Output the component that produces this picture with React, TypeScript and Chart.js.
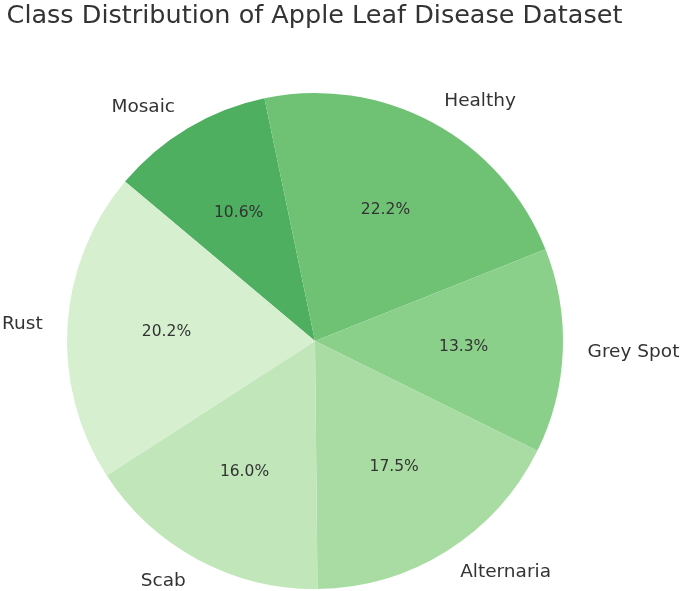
import React, { useEffect, useRef } from "react";
import { Chart, registerables } from "chart.js";

Chart.register(...registerables);

const TITLE = "Class Distribution of Apple Leaf Disease Dataset";
// Counter-clockwise order starting at 140°, as in the source
const categories = ["Rust", "Scab", "Alternaria", "Grey Spot", "Healthy", "Mosaic"];
const percentages = [20.2, 16.0, 17.5, 13.3, 22.2, 10.6];
const colors = ["#d5efcf", "#c1e6ba", "#a9dca3", "#8bd08a", "#6fc274", "#4daf5f"];

const TEXT_COLOR = "#333333";
const FONT = '"DejaVu Sans", sans-serif';

export default function App() {
  const ref = useRef<HTMLCanvasElement | null>(null);

  useEffect(() => {
    if (!ref.current) return;
    // Chart.js draws clockwise, so reverse to reproduce the counter-clockwise layout
    const labels = [...categories].reverse();
    const data = [...percentages].reverse();
    const bg = [...colors].reverse();

    const textPlugin = {
      id: "pieText",
      afterDraw(chart: any) {
        const ctx = chart.ctx as CanvasRenderingContext2D;
        ctx.save();
        ctx.fillStyle = TEXT_COLOR;
        // title
        ctx.font = `25.5px ${FONT}`;
        ctx.textAlign = "center";
        ctx.textBaseline = "alphabetic";
        ctx.fillText(TITLE, 314.5, 23);

        const meta = chart.getDatasetMeta(0);
        const total = data.reduce((a: number, b: number) => a + b, 0);
        meta.data.forEach((arc: any, i: number) => {
          const mid = (arc.startAngle + arc.endAngle) / 2;
          const r = arc.outerRadius;
          const cx = arc.x;
          const cy = arc.y;
          const cos = Math.cos(mid);
          const sin = Math.sin(mid);
          // category label at 1.1 r
          const lx = cx + cos * r * 1.1;
          const ly = cy + sin * r * 1.1;
          ctx.font = `18.5px ${FONT}`;
          ctx.textBaseline = "middle";
          ctx.textAlign = cos > 0 ? "left" : "right";
          ctx.fillText(labels[i], lx, ly);
          // percentage at 0.6 r
          const px = cx + cos * r * 0.6;
          const py = cy + sin * r * 0.6;
          ctx.font = `15.5px ${FONT}`;
          ctx.textAlign = "center";
          ctx.fillText(((data[i] / total) * 100).toFixed(1) + "%", px, py);
        });
        ctx.restore();
      },
    };

    const chart = new Chart(ref.current, {
      type: "pie",
      data: {
        labels,
        datasets: [
          {
            data,
            backgroundColor: bg,
            borderWidth: 0,
          },
        ],
      },
      options: {
        responsive: false,
        animation: false,
        devicePixelRatio: 1,
        rotation: -50,
        layout: { padding: { top: 93, bottom: 2, left: 67, right: 122 } },
        plugins: {
          legend: { display: false },
          tooltip: { enabled: false },
          title: { display: false },
        },
      },
      plugins: [textPlugin],
    });
    return () => chart.destroy();
  }, []);

  return (
    <div style={{ position: "absolute", left: 0, top: 0, width: 685, height: 591, background: "#fff" }}>
      <canvas ref={ref} width={685} height={591} style={{ width: 685, height: 591, display: "block" }} />
    </div>
  );
}
